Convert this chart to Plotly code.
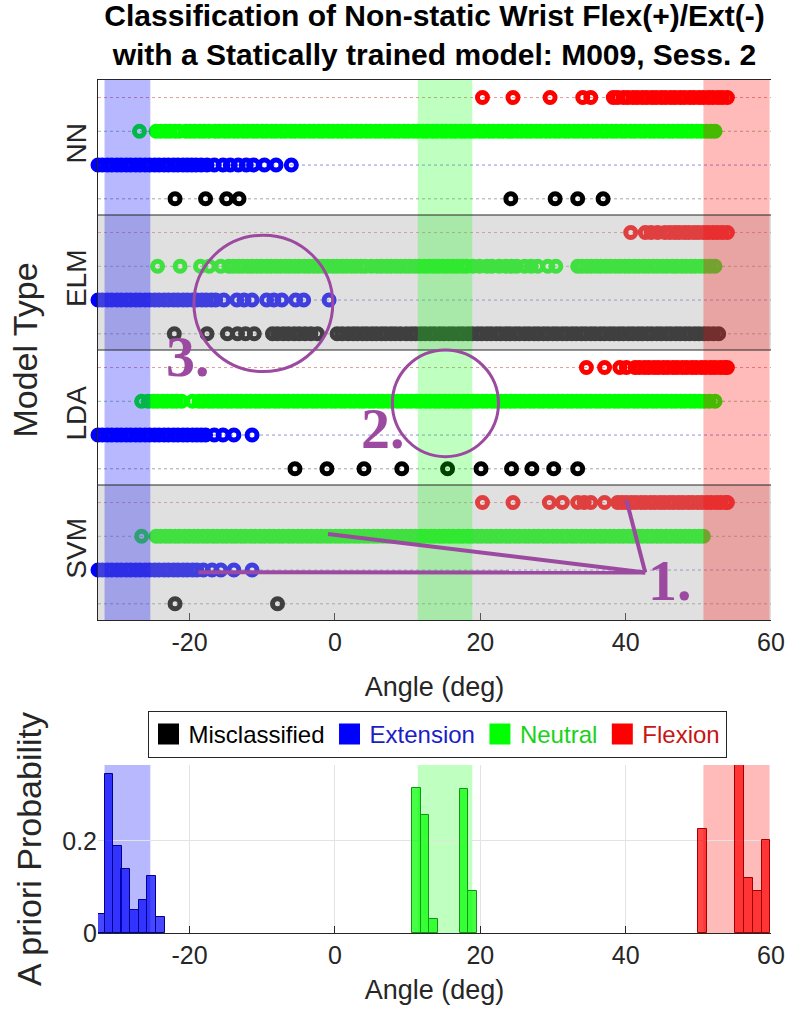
import plotly.graph_objects as go

# ---------------------------------------------------------------- data
ANGLE_RANGE = [-32.6, 60]
ANGLE_TICKS = [-20, 0, 20, 40, 60]
ANGLE_TICK_TEXT = ["-20", "0", "20", "40", "60"]
MODELS = ["NN", "ELM", "LDA", "SVM"]
CLASSES = ["Misclassified", "Extension", "Neutral", "Flexion"]

# target-class angle windows (deg)
EXT_BAND = [-31.7, -25.4]
NEU_BAND = [11.4, 18.9]
FLEX_BAND = [50.7, 59.8]

# predicted-class angles (deg) for every model
NN_MIS = [-22.0, -17.8, -14.9, -13.2, 24.2, 30.3, 33.4, 36.9]
NN_EXT = [-32.6, -32.0, -31.3, -30.7, -30.0, -29.4, -28.7, -28.1, -27.4, -26.8, -26.1, -25.5,
          -24.8, -24.2, -23.5, -22.9, -22.2, -21.6, -20.9, -20.3, -19.7, -19.1, -18.4, -17.6,
          -16.6, -15.4, -14.4, -13.3, -12.2, -11.2, -9.7, -8.1, -6.0]
NN_NEU = [-26.9, -24.6, -24.0, -23.3, -22.7, -22.0, -21.4, -20.5, -19.9, -19.3, -18.6, -18.0,
          -17.3, -16.5, -15.9, -15.2, -14.6, -13.9, -13.3, -12.6, -12.0, -11.3, -10.7, -10.0,
          -9.4, -8.7, -8.1, -7.4, -6.8, -6.1, -5.5, -4.8, -4.2, -3.5, -2.9, -2.2, -1.6, -0.9,
          -0.3, 0.4, 1.0, 1.7, 2.3, 3.0, 3.6, 4.3, 4.9, 5.6, 6.2, 6.9, 7.5, 8.2, 8.8, 9.5, 10.1,
          10.8, 11.4, 12.1, 12.7, 13.4, 14.0, 14.7, 15.3, 16.0, 16.6, 17.3, 17.9, 18.6, 19.2,
          19.9, 20.5, 21.2, 21.8, 22.5, 23.1, 23.8, 24.4, 25.1, 25.7, 26.4, 27.0, 27.7, 28.3,
          29.0, 29.6, 30.3, 30.9, 31.6, 32.2, 32.9, 33.5, 34.2, 34.8, 35.5, 36.1, 36.8, 37.4,
          38.1, 38.7, 39.4, 40.0, 40.7, 41.3, 42.0, 42.6, 43.3, 43.9, 44.6, 45.2, 45.9, 46.5,
          47.2, 47.8, 48.5, 49.1, 49.8, 50.4, 51.1, 51.7, 52.3]
NN_FLEX = [20.3, 24.5, 29.6, 34.1, 35.2, 38.3, 38.9, 39.7, 40.3, 41.0, 41.6, 42.3, 42.9, 43.6,
           44.2, 44.9, 45.5, 46.2, 46.8, 47.5, 48.1, 48.8, 49.4, 50.1, 50.7, 51.4, 52.0, 52.7,
           53.3, 54.0]

ELM_MIS = [-22.1, -17.6, -14.8, -13.4, -12.3, -11.1, -8.6, -7.9, -7.1, -6.4, -5.6, -4.9, -4.1,
           -3.3, -2.4, 0.3, 1.0, 1.8, 2.5, 3.1, 3.8, 4.4, 5.1, 5.7, 6.4, 7.0, 7.7, 8.3, 9.0,
           9.8, 10.5, 11.1, 11.8, 12.4, 13.1, 13.7, 14.4, 15.0, 15.7, 16.3, 17.0, 17.6, 18.3,
           18.9, 19.6, 20.2, 20.9, 21.5, 22.2, 22.8, 23.5, 24.1, 24.8, 25.4, 26.1, 26.7, 27.4,
           28.0, 28.7, 29.3, 30.0, 30.6, 31.3, 31.9, 32.6, 33.2, 33.9, 34.5, 35.2, 35.8, 36.5,
           37.1, 37.8, 38.4, 39.1, 39.7, 40.4, 41.0, 41.7, 42.3, 43.0, 43.6, 44.3, 44.9, 45.6,
           46.2, 46.9, 47.5, 48.2, 48.8, 49.5, 50.1, 50.8, 51.4, 52.1, 52.8]
ELM_EXT = [-32.6, -32.0, -31.3, -30.7, -30.0, -29.4, -28.7, -28.1, -27.4, -26.8, -26.1, -25.5,
           -24.8, -24.2, -23.5, -22.9, -22.2, -21.6, -20.9, -20.3, -19.6, -19.0, -18.3, -17.7,
           -17.0, -16.4, -15.3, -13.5, -12.5, -11.4, -9.4, -8.4, -7.3, -5.4, -4.3, -0.8]
ELM_NEU = [-24.4, -21.3, -18.5, -17.3, -15.7, -14.6, -14.0, -13.3, -12.7, -12.0, -11.4, -10.7,
           -10.1, -9.4, -8.8, -8.1, -7.5, -6.8, -6.2, -5.5, -4.9, -4.2, -3.6, -2.9, -2.3, -1.6,
           -1.0, -0.3, 0.3, 1.0, 1.6, 2.3, 2.9, 3.6, 4.2, 5.0, 5.8, 6.4, 7.1, 7.7, 8.4, 9.0,
           9.7, 10.3, 11.0, 11.6, 12.3, 12.9, 13.6, 14.2, 14.9, 15.5, 16.2, 16.8, 17.5, 18.1,
           19.0, 19.9, 20.9, 21.6, 22.6, 23.5, 24.3, 25.0, 26.1, 27.0, 27.9, 29.3, 30.4, 33.4,
           34.0, 34.7, 35.3, 36.0, 36.6, 37.3, 37.9, 38.6, 39.2, 39.9, 40.5, 41.2, 41.8, 42.5,
           43.1, 43.8, 44.4, 45.1, 45.7, 46.4, 47.0, 47.7, 48.3, 49.0, 49.6, 50.3, 50.9, 51.6,
           52.3]
ELM_FLEX = [40.7, 42.7, 43.5, 44.4, 45.4, 46.1, 46.8, 47.4, 48.1, 48.7, 49.4, 50.0, 50.7, 51.3,
            52.0, 52.6, 53.3, 54.0]

LDA_MIS = [-5.5, -1.1, 4.0, 9.2, 15.5, 20.1, 24.3, 27.1, 30.1, 33.4]
LDA_EXT = [-32.6, -32.0, -31.3, -30.7, -30.0, -29.4, -28.7, -28.1, -27.4, -26.8, -26.1, -25.5,
           -24.8, -24.2, -23.5, -22.9, -22.2, -21.6, -20.9, -20.3, -19.6, -19.0, -18.4, -17.8,
           -16.6, -15.4, -13.9, -11.4]
LDA_NEU = [-26.6, -25.7, -25.0, -24.4, -23.7, -23.1, -22.4, -21.8, -21.1, -19.6, -18.7, -18.1,
           -17.4, -16.8, -16.1, -15.5, -14.8, -14.2, -13.5, -12.9, -12.2, -11.6, -10.9, -10.3,
           -9.6, -9.0, -8.3, -7.7, -7.0, -6.4, -5.7, -5.1, -4.4, -3.8, -3.1, -2.5, -1.8, -1.2,
           -0.5, 0.1, 0.8, 1.4, 2.1, 2.7, 3.4, 4.0, 4.7, 5.3, 6.0, 6.6, 7.3, 7.9, 8.6, 9.2, 9.9,
           10.5, 11.2, 11.8, 12.5, 13.1, 13.8, 14.4, 15.1, 15.7, 16.4, 17.0, 17.7, 18.3, 19.0,
           19.6, 20.3, 20.9, 21.6, 22.2, 22.9, 23.5, 24.2, 24.8, 25.5, 26.1, 26.8, 27.4, 28.1,
           28.7, 29.4, 30.0, 30.7, 31.3, 32.0, 32.6, 33.3, 33.9, 34.6, 35.2, 35.9, 36.5, 37.2,
           37.8, 38.5, 39.1, 39.8, 40.4, 41.1, 41.7, 42.4, 43.0, 43.7, 44.3, 45.0, 45.6, 46.3,
           46.9, 47.6, 48.2, 48.9, 49.5, 50.2, 50.8, 51.5, 52.3]
LDA_FLEX = [34.6, 37.1, 39.2, 40.1, 41.3, 41.9, 42.6, 43.2, 43.9, 44.5, 45.2, 45.8, 46.5, 47.1,
            47.8, 48.4, 49.1, 49.7, 50.4, 51.0, 51.7, 52.3, 53.0, 53.6, 54.0]

SVM_MIS = [-22.0, -7.9]
SVM_EXT = [-32.6, -32.0, -31.3, -30.7, -30.0, -29.4, -28.7, -28.1, -27.4, -26.8, -26.1, -25.5,
           -24.8, -24.2, -23.5, -22.9, -22.2, -21.6, -20.9, -20.3, -19.6, -19.0, -18.1, -16.9,
           -15.7, -13.9, -11.4]
SVM_NEU = [-26.6, -24.6, -24.0, -23.3, -22.7, -22.0, -21.4, -20.7, -20.1, -19.4, -18.8, -18.1,
           -17.5, -16.8, -16.2, -15.5, -14.9, -14.2, -13.6, -12.9, -12.3, -11.6, -11.0, -10.3,
           -9.7, -9.0, -8.4, -7.7, -7.1, -6.4, -5.8, -5.1, -4.5, -3.8, -3.2, -2.5, -1.9, -1.2,
           -0.6, 0.1, 0.7, 1.4, 2.0, 2.7, 3.3, 4.0, 4.6, 5.3, 5.9, 6.6, 7.2, 7.9, 8.5, 9.2, 9.8,
           10.5, 11.1, 11.8, 12.4, 13.1, 13.7, 14.4, 15.0, 15.7, 16.3, 17.0, 17.6, 18.3, 18.9,
           19.6, 20.2, 20.9, 21.5, 22.2, 22.8, 23.5, 24.1, 24.8, 25.4, 26.1, 26.7, 27.4, 28.0,
           28.7, 29.3, 30.0, 30.6, 31.3, 31.9, 32.6, 33.2, 33.9, 34.5, 35.2, 35.8, 36.5, 37.1,
           37.8, 38.4, 39.1, 39.7, 40.4, 41.0, 41.7, 42.3, 43.0, 43.6, 44.3, 44.9, 45.6, 46.2,
           46.9, 47.5, 48.2, 48.8, 49.5, 50.1, 50.7]
SVM_FLEX = [20.3, 24.5, 29.5, 31.3, 33.4, 34.3, 35.2, 37.1, 38.9, 39.5, 40.1, 40.8, 41.4, 42.1,
            42.7, 43.4, 44.0, 44.7, 45.3, 46.0, 46.6, 47.3, 47.9, 48.6, 49.2, 49.9, 50.5, 51.2,
            51.8, 52.5, 53.1, 53.8, 54.0]

PREDICTIONS = {
    "NN": [NN_MIS, NN_EXT, NN_NEU, NN_FLEX],
    "ELM": [ELM_MIS, ELM_EXT, ELM_NEU, ELM_FLEX],
    "LDA": [LDA_MIS, LDA_EXT, LDA_NEU, LDA_FLEX],
    "SVM": [SVM_MIS, SVM_EXT, SVM_NEU, SVM_FLEX],
}

# a-priori probability histograms (bin centre in deg, probability)
HIST_BIN_WIDTH = 1.2
EXT_BINS = [-32.3, -31.1, -29.95, -28.8, -27.6, -26.4, -25.2, -24.0]
EXT_PROB = [0.042, 0.346, 0.19, 0.14, 0.051, 0.071, 0.123, 0.035]
NEU_BINS = [11.2, 12.4, 13.55, 17.75, 18.9]
NEU_PROB = [0.315, 0.256, 0.030, 0.312, 0.091]
FLEX_BINS = [50.6, 55.7, 56.9, 58.1, 59.3]
FLEX_PROB = [0.225, 0.37, 0.12, 0.091, 0.203]

# ---------------------------------------------------------------- style
TXT = "#262626"
SANS = "Liberation Sans, Arial, sans-serif"
SERIF = "Liberation Serif, Times New Roman, serif"
PURPLE = "#9b4aa0"
CLASS_COLORS = ["#000000", "#0000ff", "#00ff00", "#ff0000"]
LEGEND_TEXT = ["#000000", "#1c1cc8", "#19d219", "#c81414"]
GRID_DOT = ["rgba(80,80,80,0.5)", "rgba(70,70,200,0.6)", "rgba(90,150,90,0.6)",
            "rgba(200,90,90,0.6)"]
ROW_OFFSET = [0.12, 0.37, 0.62, 0.87]
BAND_FILL = ["rgba(0,0,255,0.28)", "rgba(0,255,0,0.25)", "rgba(255,0,0,0.27)"]
BANDS = [EXT_BAND, NEU_BAND, FLEX_BAND]

W, H = 788, 1019
X_DOM = [98 / W, 771 / W]
TOP_DOM = [1 - 620 / H, 1 - 80 / H]
HIST_DOM = [1 - 933 / H, 1 - 765 / H]

fig = go.Figure()

# predicted-class markers
n_models = len(MODELS)
for mi, model in enumerate(MODELS):
    base = n_models - 1 - mi
    for ci, xs in enumerate(PREDICTIONS[model]):
        fig.add_trace(go.Scatter(
            x=xs, y=[base + ROW_OFFSET[ci]] * len(xs), mode="markers",
            marker=dict(symbol="circle-open", size=10, color=CLASS_COLORS[ci],
                        line=dict(width=5, color=CLASS_COLORS[ci])),
            cliponaxis=False, showlegend=False, hoverinfo="skip",
            xaxis="x", yaxis="y"))

# legend entries
for ci, cls in enumerate(CLASSES):
    fig.add_trace(go.Scatter(
        x=[None], y=[None], mode="markers", xaxis="x", yaxis="y",
        name=f'<span style="color:{LEGEND_TEXT[ci]}">{cls}</span>',
        marker=dict(symbol="square", size=16, color=CLASS_COLORS[ci],
                    line=dict(width=5, color=CLASS_COLORS[ci]))))

# probability histograms
hist_sets = [(EXT_BINS, EXT_PROB, "rgba(0,0,255,0.72)", "#00008c"),
             (NEU_BINS, NEU_PROB, "rgba(0,255,0,0.72)", "#139413"),
             (FLEX_BINS, FLEX_PROB, "rgba(255,0,0,0.72)", "#a00000")]
for bins, prob, fill, edge in hist_sets:
    fig.add_trace(go.Bar(
        x=bins, y=prob, width=HIST_BIN_WIDTH, xaxis="x2", yaxis="y2",
        marker=dict(color=fill, line=dict(color=edge, width=1)),
        showlegend=False, hoverinfo="skip"))

shapes = []
# dotted row guides
for mi in range(n_models):
    base = n_models - 1 - mi
    for ci in range(len(CLASSES)):
        yv = base + ROW_OFFSET[ci]
        shapes.append(dict(type="line", xref="x domain", yref="y", x0=0, x1=1, y0=yv, y1=yv,
                           line=dict(color=GRID_DOT[ci], width=1, dash="dot"), layer="below"))
# shaded panels (ELM, SVM)
for mi, model in enumerate(MODELS):
    if mi % 2 == 1:
        base = n_models - 1 - mi
        shapes.append(dict(type="rect", xref="x domain", yref="y", x0=0, x1=1,
                           y0=base, y1=base + 1, fillcolor="rgba(171,171,171,0.37)",
                           line=dict(width=0), layer="above"))
# class windows
for band, fill in zip(BANDS, BAND_FILL):
    shapes.append(dict(type="rect", xref="x", yref="y domain", x0=band[0], x1=band[1],
                       y0=0, y1=1, fillcolor=fill, line=dict(width=0), layer="above"))
    shapes.append(dict(type="rect", xref="x2", yref="y2 domain", x0=band[0], x1=band[1],
                       y0=0, y1=1, fillcolor=fill, line=dict(width=0), layer="below"))
# panel separators
for k in range(1, n_models):
    shapes.append(dict(type="line", xref="x domain", yref="y", x0=0, x1=1, y0=k, y1=k,
                       line=dict(color=TXT, width=1), layer="above"))

# hand-drawn highlights
shapes += [
    dict(type="circle", xref="x", yref="y", x0=-19.4, x1=-0.3, y0=1.84, y1=2.85,
         line=dict(color=PURPLE, width=3), layer="above"),
    dict(type="circle", xref="x", yref="y", x0=7.9, x1=22.5, y0=1.21, y1=2.0,
         line=dict(color=PURPLE, width=3), layer="above"),
    dict(type="line", xref="x", yref="y", x0=40.1, y0=0.89, x1=42.7, y1=0.352,
         line=dict(color=PURPLE, width=4), layer="above"),
    dict(type="line", xref="x", yref="y", x0=-0.95, y0=0.637, x1=42.7, y1=0.352,
         line=dict(color=PURPLE, width=4), layer="above"),
    dict(type="line", xref="x", yref="y", x0=-18.8, y0=0.353, x1=42.7, y1=0.352,
         line=dict(color=PURPLE, width=4), layer="above"),
]

annotations = []
for label, xv, yv in [("1.", 46.1, 0.29), ("2.", 6.6, 1.415), ("3.", -20.2, 1.95)]:
    annotations.append(dict(text=label, x=xv, y=yv, xref="x", yref="y", showarrow=False,
                            font=dict(family=SERIF, size=58, color=PURPLE, weight="bold")))

fig.update_layout(
    width=W, height=H, margin=dict(l=0, r=0, t=0, b=0),
    paper_bgcolor="white", plot_bgcolor="white",
    shapes=shapes, annotations=annotations, barmode="overlay", bargap=0,
    title=dict(text="Classification of Non-static Wrist Flex(+)/Ext(-)<br>"
                    "with a Statically trained model: M009, Sess. 2",
               x=(X_DOM[0] + X_DOM[1]) / 2, xanchor="center", y=1 - 26 / H, yanchor="middle",
               font=dict(family=SANS, size=30, color="#000000", weight="bold")),
    legend=dict(orientation="h", x=437 / W, xanchor="center", y=1 - 711 / H, yanchor="top",
                bordercolor=TXT, borderwidth=1, bgcolor="white",
                font=dict(family=SANS, size=24, color=TXT), itemsizing="trace"),
    xaxis=dict(domain=X_DOM, anchor="y", range=ANGLE_RANGE, tickvals=ANGLE_TICKS,
               ticktext=ANGLE_TICK_TEXT,
               ticks="inside", ticklen=7, tickcolor=TXT, showline=True, linecolor=TXT,
               mirror=True, showgrid=False, zeroline=False, automargin=False,
               tickfont=dict(family=SANS, size=25, color=TXT),
               title=dict(text="Angle (deg)", standoff=22,
                          font=dict(family=SANS, size=27, color=TXT))),
    yaxis=dict(domain=TOP_DOM, anchor="x", range=[0, n_models],
               tickvals=[n_models - 1 - mi + 0.5 for mi in range(n_models)], ticktext=MODELS,
               tickangle=-90, ticks="", showline=True, linecolor=TXT, showgrid=False,
               zeroline=False, automargin=False,
               tickfont=dict(family=SANS, size=28, color=TXT),
               title=dict(text="Model Type", standoff=12,
                          font=dict(family=SANS, size=34, color=TXT))),
    xaxis2=dict(domain=X_DOM, anchor="y2", range=ANGLE_RANGE, tickvals=ANGLE_TICKS,
                ticktext=ANGLE_TICK_TEXT,
                ticks="inside", ticklen=7, tickcolor=TXT, showline=True, linecolor=TXT,
                showgrid=True, gridcolor="#e3e3e3", zeroline=False, automargin=False,
                tickfont=dict(family=SANS, size=25, color=TXT),
                title=dict(text="Angle (deg)", standoff=12,
                           font=dict(family=SANS, size=27, color=TXT))),
    yaxis2=dict(domain=HIST_DOM, anchor="x2", range=[0, 0.365], tickvals=[0, 0.2],
                ticktext=["0", "0.2"], ticks="", showline=False, showgrid=True,
                gridcolor="#e3e3e3", zeroline=False, automargin=False,
                tickfont=dict(family=SANS, size=25, color=TXT),
                title=dict(text="A priori Probability", standoff=10,
                           font=dict(family=SANS, size=34, color=TXT))),
)

fig.write_html("out.html")
